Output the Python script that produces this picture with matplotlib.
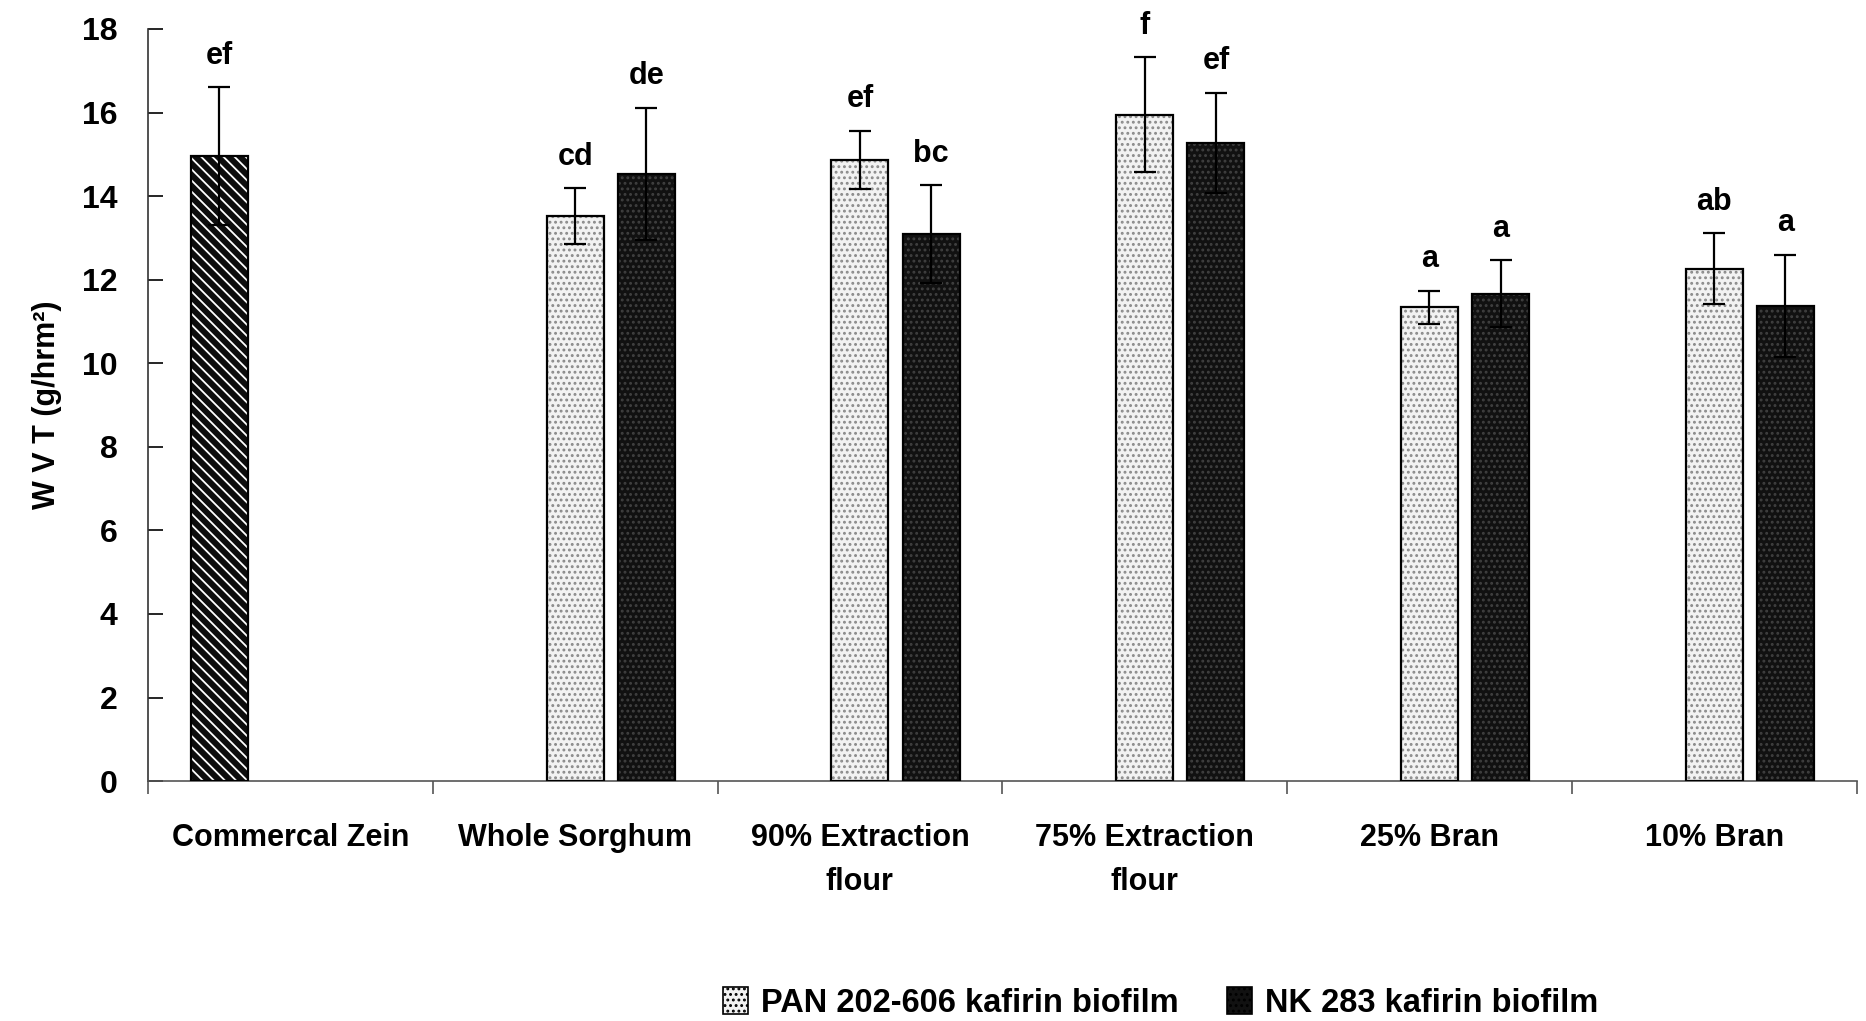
import numpy as np
import matplotlib
matplotlib.use("Agg")
import matplotlib.pyplot as plt
from matplotlib.patches import Patch
from matplotlib import font_manager

# ---------------- data ----------------
categories = ["Commercal Zein", "Whole Sorghum", "90% Extraction\nflour",
              "75% Extraction\nflour", "25% Bran", "10% Bran"]
zein_value = [14.95]
zein_err = [1.65]
zein_letter = ["ef"]
pan_values = [13.52, 14.86, 15.95, 11.34, 12.26]
pan_err = [0.67, 0.70, 1.37, 0.40, 0.85]
pan_letters = ["cd", "ef", "f", "a", "ab"]
nk_values = [14.53, 13.09, 15.28, 11.66, 11.37]
nk_err = [1.58, 1.17, 1.20, 0.80, 1.23]
nk_letters = ["de", "bc", "ef", "a", "a"]
series_names = ["PAN 202-606 kafirin biofilm", "NK 283 kafirin biofilm"]
yticks = [0, 2, 4, 6, 8, 10, 12, 14, 16, 18]

# ---------------- fonts ----------------
avail = {f.name for f in font_manager.fontManager.ttflist}
fam = [f for f in ["Liberation Sans Narrow", "Liberation Sans", "DejaVu Sans"] if f in avail]
plt.rcParams['font.family'] = fam
plt.rcParams['font.weight'] = 'bold'
plt.rcParams['hatch.linewidth'] = 1.3

fig = plt.figure(figsize=(18.66, 10.21), dpi=100)
ax = fig.add_axes([0.0793, 0.235, 0.9157, 0.7366])

w = 0.2
off = 0.25
x_cat = np.arange(len(categories))
x_pan = x_cat[1:]
x_nk = x_cat[1:] + off
x_zein = x_cat[:1] - off

def hatched_bar(x, h, face, hatch, hcolor):
    ax.bar(x, h, w, color=face, edgecolor=hcolor, hatch=hatch, linewidth=0, zorder=2)
    ax.bar(x, h, w, fill=False, edgecolor='black', linewidth=1.6, zorder=3)

hatched_bar(x_zein, zein_value, '#0d0d0d', '\\\\\\', 'white')
hatched_bar(x_pan, pan_values, '#f2f2f2', '...', '#8a8a8a')
hatched_bar(x_nk, nk_values, '#111111', '...', '#404040')

ekw = dict(fmt='none', ecolor='black', elinewidth=1.6, capsize=8, capthick=1.6, zorder=4)
ax.errorbar(x_zein, zein_value, yerr=zein_err, **ekw)
ax.errorbar(x_pan, pan_values, yerr=pan_err, **ekw)
ax.errorbar(x_nk, nk_values, yerr=nk_err, **ekw)

lkw = dict(textcoords='offset points', ha='center', va='bottom', fontsize=22, fontweight='bold')
for xs, vs, es, ls in [(x_zein, zein_value, zein_err, zein_letter),
                       (x_pan, pan_values, pan_err, pan_letters),
                       (x_nk, nk_values, nk_err, nk_letters)]:
    for xx, v, e, l in zip(xs, vs, es, ls):
        ax.annotate(l, (xx, v + e), xytext=(0, 12), **lkw)

ax.set_xlim(-0.5, len(categories) - 0.5)
ax.set_ylim(0, 18)
ax.set_yticks(yticks)
ax.set_yticklabels([str(t) for t in yticks], fontsize=23, fontweight='bold')
ax.tick_params(axis='y', direction='in', length=11, width=1.2, pad=22)

ax.set_xticks(x_cat)
ax.set_xticklabels(categories, fontsize=22, fontweight='bold', linespacing=1.6, va='top')
ax.tick_params(axis='x', which='major', length=0, pad=30)
ax.set_xticks(np.arange(len(categories) + 1) - 0.5, minor=True)
ax.tick_params(axis='x', which='minor', direction='out', length=9, width=1.2, colors='#555555')

for s in ['top', 'right']:
    ax.spines[s].set_visible(False)
ax.spines['left'].set_linewidth(1.2)
ax.spines['bottom'].set_linewidth(1.2)
ax.spines['bottom'].set_color('#555555')
ax.spines['left'].set_color('#333333')

ax.set_ylabel("W V T (g/hrm²)", fontsize=22, fontweight='bold', labelpad=14)

handles = [Patch(facecolor='#f2f2f2', edgecolor='black', hatch='...', linewidth=1.2),
           Patch(facecolor='#111111', edgecolor='black', hatch='...', linewidth=1.2)]
fig.legend(handles, series_names, loc='center', bbox_to_anchor=(0.622, 0.0176),
           ncol=2, frameon=False, handlelength=0.75, handleheight=0.9,
           handletextpad=0.4, columnspacing=1.5, prop={'weight': 'bold', 'size': 23.5})

fig.savefig("out.png", dpi=100, facecolor='white')
